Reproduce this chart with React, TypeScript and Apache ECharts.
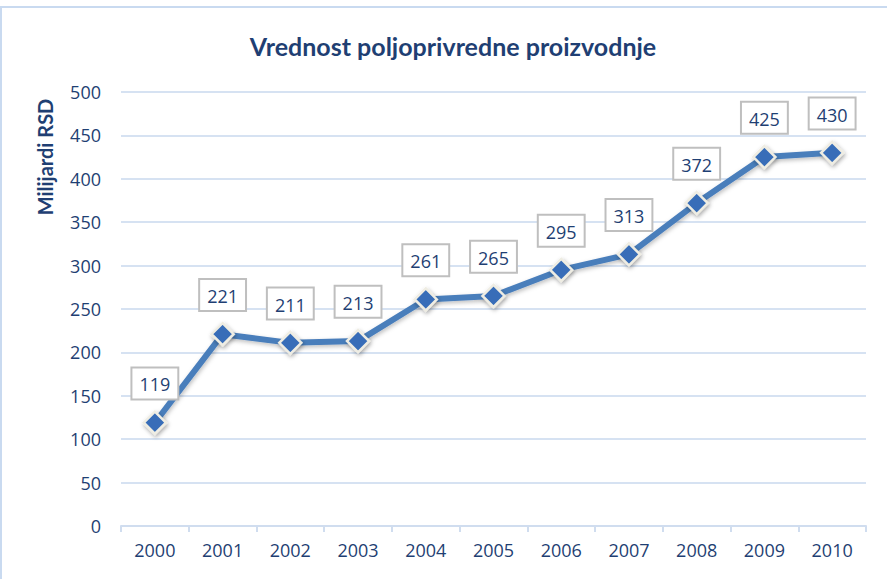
import React, { useEffect, useRef } from "react";
import * as echarts from "echarts";

const years = ["2000", "2001", "2002", "2003", "2004", "2005", "2006", "2007", "2008", "2009", "2010"];
const values = [119, 221, 211, 213, 261, 265, 295, 313, 372, 425, 430];
const titleText = "Vrednost poljoprivredne proizvodnje";
const yAxisName = "Milijardi RSD";

const FONT = "Lato, 'Open Sans', sans-serif";
const NUMFONT = "'Open Sans', Lato, sans-serif";
const DARK = "#1F3F73";

export default function App() {
  const ref = useRef<HTMLDivElement>(null);
  useEffect(() => {
    const chart = echarts.init(ref.current!, null, { renderer: "svg" });
    chart.setOption({
      animation: false,
      backgroundColor: "#ffffff",
      title: {
        text: titleText,
        left: 448,
        textAlign: "center",
        top: 28,
        textStyle: { fontFamily: FONT, fontSize: 25, fontWeight: "bold", color: DARK },
      },
      graphic: [
        {
          type: "rect",
          shape: { x: 1, y: 7, width: 920, height: 620 },
          style: { fill: "none", stroke: "#C9DAF0", lineWidth: 2 },
          silent: true,
        },
        {
          type: "text",
          x: 45,
          y: 157,
          rotation: Math.PI / 2,
          style: {
            text: yAxisName,
            fontFamily: FONT,
            fontSize: 20,
            fontWeight: "bold",
            fill: DARK,
            align: "center",
            verticalAlign: "middle",
          },
        },
      ],
      grid: { left: 121, right: 21, top: 92, bottom: 53 },
      xAxis: {
        type: "category",
        data: years,
        boundaryGap: true,
        axisLine: { lineStyle: { color: "#D0DDEF", width: 2 } },
        axisTick: { show: true, length: 6, lineStyle: { color: "#D0DDEF", width: 2 } },
        axisLabel: { fontFamily: NUMFONT, fontSize: 18, color: DARK, margin: 15 },
      },
      yAxis: {
        type: "value",
        min: 0,
        max: 500,
        interval: 50,
        axisLine: { show: false },
        axisTick: { show: false },
        splitLine: { lineStyle: { color: "#D6E2F2", width: 2 } },
        axisLabel: { fontFamily: NUMFONT, fontSize: 18, color: DARK, margin: 20 },
      },
      series: [
        {
          type: "line",
          data: values,
          symbol: "diamond",
          symbolSize: 22,
          lineStyle: {
            color: "#4A7EBB",
            width: 6,
            shadowBlur: 4,
            shadowColor: "rgba(0,0,0,0.25)",
            shadowOffsetX: 1,
            shadowOffsetY: 2,
          },
          itemStyle: {
            color: "#376DB8",
            borderColor: "#EFEDE3",
            borderWidth: 2.5,
            shadowBlur: 4,
            shadowColor: "rgba(0,0,0,0.35)",
            shadowOffsetX: 1,
            shadowOffsetY: 2,
          },
          label: {
            show: true,
            position: "top",
            distance: 12,
            fontFamily: NUMFONT,
            fontSize: 18,
            color: DARK,
            backgroundColor: "#ffffff",
            borderColor: "#BFBFBF",
            borderWidth: 2,
            padding: [7, 7, 5, 7],
          },
        },
      ],
    });
    return () => chart.dispose();
  }, []);
  return (
    <div
      ref={ref}
      style={{ position: "absolute", left: 0, top: 0, width: 887, height: 579 }}
    />
  );
}
